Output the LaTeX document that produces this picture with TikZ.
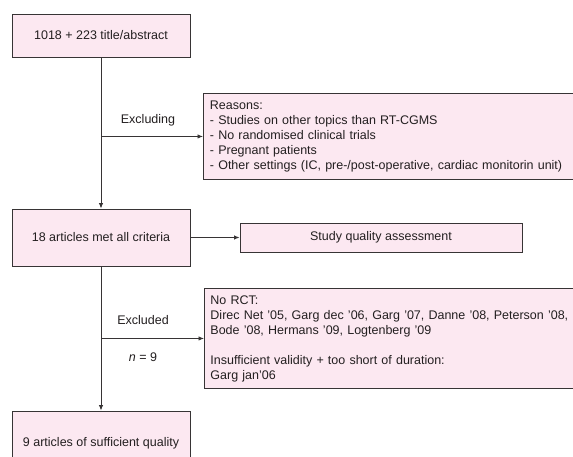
\documentclass[tikz,border=0pt]{standalone}
\usepackage{fontspec}
\setmainfont{Liberation Sans}
\usepackage{xcolor}
\usetikzlibrary{arrows.meta, positioning, calc}
\definecolor{BoxFill}{RGB}{252,232,241}
\definecolor{BoxLine}{RGB}{55,52,53}
\definecolor{InkDark}{RGB}{35,31,32}

\begin{document}
\begin{tikzpicture}[x=1pt,y=-1pt,
        box/.style={draw=BoxLine,fill=BoxFill,line width=0.9pt,
                    font=\fontsize{12.5}{15}\selectfont,text=InkDark,
                    minimum width=178pt,text centered,inner sep=0pt},
        notebox/.style={draw=BoxLine,fill=BoxFill,line width=0.9pt,
                    font=\fontsize{12.5}{15}\selectfont,text=InkDark,
                    align=left,anchor=north west,inner sep=0pt},
        lbl/.style={font=\fontsize{12.5}{15}\selectfont,text=InkDark},
        arr/.style={-{Latex[length=5.5pt,width=4.5pt]},BoxLine,line width=0.9pt}
      ]
        \useasboundingbox[clip] (0,0) rectangle (573,456);
        \fill[white] (0,0) rectangle (573,456);
        % left column
        \node[box,minimum height=43pt] (title) at (101,35.5) {1018 + 223 title/abstract};
        \node[box,minimum height=57pt] (crit) at (101,237.5) {18 articles met all criteria};
        \node[box,minimum height=64pt] (final) at (101,443) {9 articles of sufficient quality};
        % right column
        \node[notebox,text width=380pt,minimum height=86pt] (reasons) at (203,93)
          {\hspace*{6.5pt}\parbox[c][86pt][c]{370pt}{Reasons:\\
           - Studies on other topics than RT-CGMS\\
           - No randomised clinical trials\\
           - Pregnant patients\\
           - Other settings (IC, pre-/post-operative, cardiac monitorin unit)}};
        \node[box,minimum width=282pt,minimum height=29pt] (quality) at (381,237.5) {Study quality assessment};
        \node[notebox,text width=380pt,minimum height=100pt] (norct) at (204,288)
          {\hspace*{6pt}\parbox[c][100pt][c]{370pt}{No RCT:\\
           Direc Net '05, Garg dec '06, Garg '07, Danne '08, Peterson '08,\\
           Bode '08, Hermans '09, Logtenberg '09\\[15pt]
           Insufficient validity + too short of duration:\\
           Garg jan'06}};
        % connectors
        \draw[arr] (title) -- (crit);
        \draw[arr] (crit) -- (final);
        \draw[arr] (title.south |- reasons.west) -- (reasons.west);
        \draw[arr] (crit) -- (quality);
        \draw[arr] (crit.south |- norct.west) -- (norct.west);
        % labels
        \node[lbl] (excl1) at (148,120) {Excluding};
        \node[lbl] (excl2) at (143,320) {Excluded};
        \node[lbl] (nval) at (143,357) {\textit{n} = 9};
      \end{tikzpicture}
\end{document}
